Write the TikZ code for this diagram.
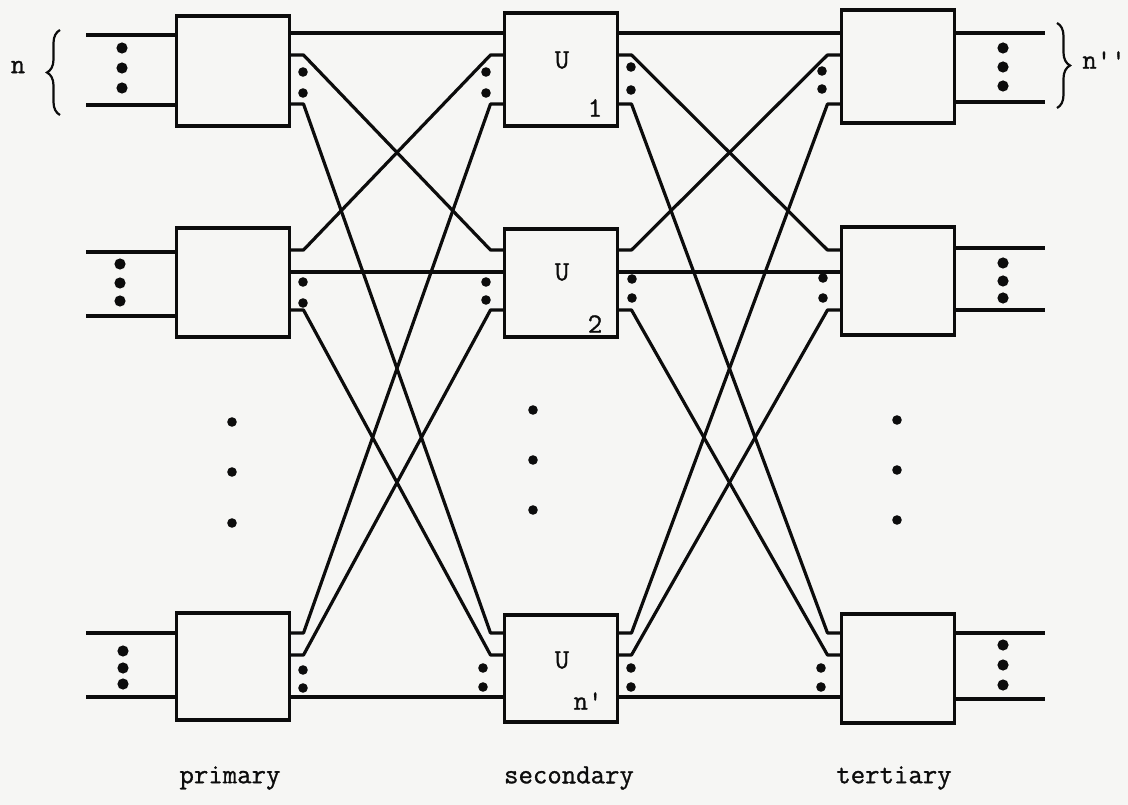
\documentclass[tikz,border=0pt]{standalone}
\usepackage{fontspec}
\newfontfamily\typew[FakeBold=1]{Latin Modern Mono}
\usetikzlibrary{calc,decorations.pathreplacing}
\definecolor{paper}{RGB}{246,246,244}
\definecolor{ink}{RGB}{12,12,12}

\begin{document}
\begin{tikzpicture}[x=1pt,y=-1pt,
  blk/.style={draw=ink, line width=3.5pt, minimum width=113pt, inner sep=0pt, outer sep=0pt},
  wire/.style={draw=ink, line width=3.2pt, line join=round},
  brc/.style={draw=ink, line width=2.2pt, decorate, decoration={brace, amplitude=13pt}},
  txt/.style={font=\typew\fontsize{28}{28}\selectfont, text=ink, inner sep=0pt},
  ]
\fill[paper] (0,0) rectangle (1128,805);
\useasboundingbox (0,0) rectangle (1128,805);

% switching blocks: primary (P), secondary (U), tertiary (T)
\foreach \n/\x/\y/\h in {P1/233/71/110, U1/561/69.5/113, T1/898/66.5/113,
                         P2/233/282.5/109, U2/561/283/108, T2/898/281/108,
                         P3/233/666.5/107, U3/561/668.5/107, T3/898/668.5/109}
  \node[blk, minimum height=\h] (\n) at (\x,\y) {};

% port heights of each row: first, second and last link
\foreach \r/\ya/\yb/\yc in {1/33/55/104, 2/250/272/310, 3/633/655/697}{
  \foreach \k/\yy in {1/\ya, 2/\yb, 3/\yc}{
    \coordinate (Po\r\k) at (P\r.east |- 0,\yy);
    \coordinate (Ui\r\k) at (U\r.west |- 0,\yy);
    \coordinate (Uo\r\k) at (U\r.east |- 0,\yy);
    \coordinate (Ti\r\k) at (T\r.west |- 0,\yy);
  }
}

% links: output j of block i goes to input i of block j in the next stage
\foreach \i in {1,2,3}{
  \foreach \j in {1,2,3}{
    \ifnum\i=\j
      \draw[wire] (Po\i\j) -- (Ui\j\i);
      \draw[wire] (Uo\i\j) -- (Ti\j\i);
    \else
      \draw[wire] (Po\i\j) -- ++(14,0) -- ($(Ui\j\i)+(-14,0)$) -- (Ui\j\i);
      \draw[wire] (Uo\i\j) -- ++(14,0) -- ($(Ti\j\i)+(-14,0)$) -- (Ti\j\i);
    \fi
  }
}

% external inputs and outputs
\foreach \r/\ya/\yb in {1/35/105, 2/252/316, 3/633/697}{
  \coordinate (In\r-a) at (86,\ya);
  \coordinate (In\r-b) at (86,\yb);
  \draw[wire] (In\r-a) -- (P\r.west |- In\r-a);
  \draw[wire] (In\r-b) -- (P\r.west |- In\r-b);
}
\foreach \r/\ya/\yb in {1/33/102, 2/248/310, 3/633/699}{
  \coordinate (Out\r-a) at (1045,\ya);
  \coordinate (Out\r-b) at (1045,\yb);
  \draw[wire] (T\r.east |- Out\r-a) -- (Out\r-a);
  \draw[wire] (T\r.east |- Out\r-b) -- (Out\r-b);
}

% ellipsis dots on the outer lines
\foreach \x/\y in {122/48,122/68,122/88, 120/264,120/283,120/301, 123/651,123/668,123/684,
                   1003/48,1003/67,1003/86, 1003/263,1003/281,1003/298, 1003/645,1003/665,1003/685}
  \fill[ink] (\x,\y) circle[radius=5.6];

% ellipsis dots between the links
\foreach \x/\y in {303/72,303/93, 303/282,303/303, 303/670,303/688,
                   486/72,486/93, 486/282,486/300, 483/668,483/687,
                   631/67,631/90, 632/279,632/298, 631/668,631/687,
                   822/71,822/89, 823/278,823/298, 821/668,821/687}
  \fill[ink] (\x,\y) circle[radius=4.8];

% blocks left out of each column
\foreach \x/\y in {232/422,232/472,232/523, 533/410,533/460,533/510, 897/420,897/470,897/520}
  \fill[ink] (\x,\y) circle[radius=4.8];

% braces and group sizes
\draw[brc] (60,115) -- (60,30);
\draw[brc] (1057,23) -- (1057,108);
\node[txt] (nin) at (18,67) {n};
\node[txt] (nout) at (1104,60) {n''};

% block labels
\node[txt] (u1) at (562,60) {U};
\node[txt] (u2) at (562,272) {U};
\node[txt] (u3) at (562,660) {U};
\node[txt] (s1) at (595,108) {1};
\node[txt] (s2) at (595,324) {2};
\node[txt] (s3) at (588,701) {n'};

% stage names
\node[txt] (lp) at (230,778) {primary};
\node[txt] (ls) at (569,778) {secondary};
\node[txt] (lt) at (894,778) {tertiary};
\end{tikzpicture}
\end{document}
